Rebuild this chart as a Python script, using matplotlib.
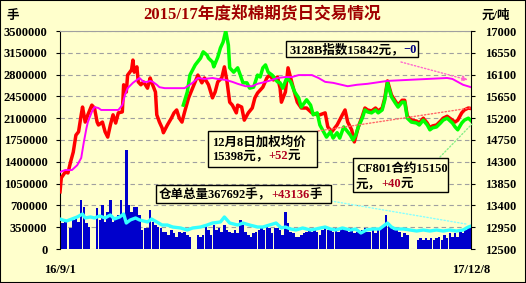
import numpy as np
import matplotlib
matplotlib.use('Agg')
import matplotlib.pyplot as plt
from matplotlib.patches import Rectangle
from matplotlib.text import Annotation

plt.rcParams['font.family'] = ['Liberation Serif', 'Noto Sans CJK SC']
plt.rcParams['font.weight'] = 'bold'

# -- data (trading-day index from 16/9/1 to 17/12/8) --
x_labels = ['16/9/1', '17/12/8']
last_day = 310

# daily volume (hands), every 2nd trading day
vol_k = [573, 412, 439, 0, 332, 466, 492, 439, 787, 680,
         412, 359, 0, 0, 653, 466, 706, 439, 599, 787,
         439, 492, 546, 787, 573, 1590, 706, 599, 680, 680,
         546, 305, 332, 332, 626, 439, 385, 359, 332, 278,
         278, 225, 305, 252, 198, 278, 252, 278, 225, 198,
         0, 0, 225, 198, 225, 385, 305, 225, 385, 305,
         332, 278, 385, 305, 278, 252, 305, 252, 466, 385,
         278, 225, 198, 252, 278, 305, 359, 305, 385, 332,
         252, 332, 332, 305, 225, 599, 412, 278, 252, 198,
         198, 225, 252, 278, 305, 278, 332, 278, 225, 305,
         359, 305, 305, 278, 332, 278, 332, 359, 305, 278,
         332, 252, 278, 278, 305, 332, 278, 278, 305, 252,
         332, 332, 385, 546, 412, 332, 305, 332, 278, 198,
         252, 225, 0, 0, 0, 145, 171, 145, 171, 145,
         171, 145, 171, 198, 145, 225, 171, 252, 198, 252,
         198, 278, 252, 305, 332, 359]

# warehouse receipts / holdings (hands, thousands)
hold_day = [0, 2, 5, 9, 13, 17, 19, 23, 26, 30,
            34, 38, 41, 45, 48, 50, 53, 57, 60, 66,
            69, 73, 77, 81, 85, 91, 96, 100, 106, 111,
            115, 121, 124, 128, 134, 138, 143, 149, 153, 158,
            163, 167, 170, 174, 178, 183, 189, 193, 200, 204,
            208, 213, 219, 223, 227, 231, 236, 241, 247, 250,
            253, 259, 264, 269, 274, 279, 284, 289, 294, 299,
            304, 308, 310]
hold_k = [482, 466, 450, 482, 514, 562, 498, 514, 498, 530,
          498, 546, 482, 514, 562, 417, 466, 498, 466, 434,
          482, 434, 385, 385, 353, 337, 305, 337, 353, 385,
          417, 434, 514, 417, 385, 417, 385, 353, 353, 385,
          417, 337, 353, 321, 305, 337, 305, 321, 353, 321,
          305, 337, 305, 321, 257, 305, 321, 321, 417, 353,
          321, 321, 305, 289, 305, 289, 305, 289, 305, 289,
          305, 353, 368]

# weighted average price (yuan/ton)
avg_day = [0, 1, 4, 6, 8, 10, 12, 14, 16, 17,
           19, 21, 24, 26, 28, 29, 32, 34, 36, 38,
           40, 42, 44, 47, 48, 50, 51, 54, 55, 56,
           58, 59, 61, 63, 66, 68, 69, 72, 73, 75,
           77, 78, 81, 84, 86, 88, 90, 92, 94, 97,
           100, 102, 104, 107, 109, 112, 115, 117, 119, 122,
           124, 126, 128, 130, 133, 134, 137, 139, 142, 145,
           147, 149, 153, 156, 158, 161, 164, 166, 167, 170,
           172, 174, 176, 179, 182, 186, 190, 194, 196, 200,
           202, 205, 209, 213, 215, 217, 220, 222, 225, 228,
           230, 232, 235, 238, 240, 243, 245, 247, 250, 253,
           255, 258, 260, 262, 265, 269, 271, 274, 277, 279,
           281, 284, 287, 289, 292, 296, 298, 300, 303, 305,
           308, 310]
avg_price = [13680, 13970, 14090, 14070, 14300, 14500, 14850, 14920, 15270, 15430,
             15120, 15270, 15470, 15410, 15120, 15060, 15120, 14920, 14810, 15060,
             15270, 15100, 15310, 15330, 15890, 15740, 16090, 16200, 16400, 16150,
             16260, 15950, 15890, 15950, 15820, 16030, 15950, 15740, 15270, 15120,
             15000, 14900, 15060, 15200, 15310, 15370, 15200, 15120, 15330, 15620,
             15820, 15950, 16090, 15930, 16030, 15890, 15620, 15740, 15950, 16030,
             16260, 15950, 15530, 15470, 15310, 15470, 15430, 15160, 15310, 15410,
             15620, 15720, 15840, 16030, 16090, 15990, 16050, 15820, 15530, 15740,
             16240, 16030, 15820, 15530, 15410, 15410, 15310, 15270, 15270, 15310,
             15020, 14920, 15060, 15270, 15370, 15120, 14960, 14710, 15020, 15240,
             15410, 15370, 15350, 15410, 15350, 15410, 15620, 15970, 15680, 15550,
             15470, 15570, 15570, 15240, 15160, 15140, 15100, 15200, 15100, 15000,
             15040, 15060, 15140, 15200, 15240, 15160, 15120, 15160, 15310, 15370,
             15410, 15400]

# CF801 contract
cf_day = [93, 96, 98, 102, 106, 108, 111, 112, 115, 116,
          119, 121, 123, 125, 127, 128, 131, 134, 136, 138,
          141, 143, 146, 149, 151, 153, 155, 157, 160, 164,
          166, 168, 171, 174, 177, 180, 182, 186, 189, 191,
          194, 196, 198, 201, 204, 206, 209, 211, 214, 217,
          219, 221, 223, 225, 228, 230, 232, 235, 238, 240,
          243, 245, 247, 250, 253, 255, 258, 260, 262, 265,
          269, 271, 274, 277, 279, 281, 284, 287, 289, 292,
          296, 298, 300, 303, 305, 308, 310]
cf_price = [15470, 15740, 16090, 16300, 16440, 16570, 16500, 16440, 16360, 16260,
            16460, 16650, 16770, 17000, 16710, 16240, 16150, 16240, 16090, 15930,
            15930, 15820, 15840, 16090, 16050, 16240, 16300, 16150, 16090, 15950,
            15930, 15820, 16030, 15950, 15740, 15620, 15430, 15580, 15470, 15270,
            15310, 15060, 14960, 14810, 14920, 14790, 14900, 14790, 15020, 14920,
            14850, 14750, 14850, 15020, 15200, 15370, 15330, 15310, 15370, 15310,
            15370, 15580, 15930, 15640, 15510, 15430, 15530, 15530, 15200, 15120,
            15100, 15060, 15160, 15060, 14960, 15000, 15020, 15100, 15160, 15200,
            15100, 15020, 14960, 15100, 15160, 15200, 15150]

# 3128B index
idx_day = [0, 4, 9, 13, 16, 18, 20, 21, 24, 26,
           29, 31, 34, 39, 44, 47, 49, 51, 55, 58,
           60, 63, 66, 68, 70, 73, 75, 79, 87, 94,
           100, 104, 109, 115, 119, 125, 130, 134, 140, 145,
           149, 155, 160, 164, 170, 175, 180, 185, 190, 195,
           200, 206, 217, 224, 232, 247, 262, 277, 292, 296,
           300, 304, 310]
idx_price = [14090, 14130, 14130, 14230, 14380, 14710, 15000, 15120, 15330, 15430,
             15410, 15370, 15370, 15370, 15370, 15470, 15680, 15820, 15930, 15990,
             16030, 15950, 15950, 15970, 15950, 15890, 15840, 15820, 15820, 15820,
             15930, 16030, 16010, 16030, 16010, 15990, 15950, 15910, 15860, 15860,
             15910, 15950, 15990, 16030, 16050, 16050, 16090, 16090, 16090, 16030,
             15950, 15930, 15860, 15890, 15910, 15970, 15990, 16010, 16030, 16010,
             15950, 15890, 15840]

W, H = 526, 283
bg = '#FFFFCC'
dark_red = '#B00020'

fig = plt.figure(figsize=(W / 100, H / 100), dpi=100, facecolor=bg)
ax = fig.add_axes([60 / W, 34 / H, 411 / W, 218 / H])
ax.set_facecolor(bg)

vol_day = np.arange(0, last_day + 1, 2)
ax.bar(vol_day, np.array(vol_k) * 1000, width=1.9, color='#0000CC', linewidth=0, zorder=2)
ax.plot(hold_day, np.array(hold_k) * 1000, color='#33FFFF', lw=2.4, zorder=3)

ax.set_ylim(0, 3500000)
ax.set_yticks(np.arange(0, 3500001, 350000))
ax.set_yticklabels([str(v) for v in range(0, 3500001, 350000)])
ax.set_xlim(0, last_day)
ax.set_xticks([0, last_day])
ax.set_xticklabels(x_labels)
ax.grid(axis='y', linestyle=(0, (4, 3)), color='#A0A0A0', lw=0.8)
ax.set_axisbelow(True)
ax.spines['bottom'].set_visible(False)
ax.spines['top'].set_color('#A0A0A0')
ax.spines['right'].set_visible(False)
ax.tick_params(axis='y', direction='out', length=3, labelsize=9, pad=6)
ax.tick_params(axis='x', length=0, labelsize=9, pad=11)

ax2 = ax.twinx()
ax2.plot(avg_day, avg_price, color='#FF0000', lw=2.5, zorder=3)
ax2.plot(cf_day, cf_price, color='#00FF00', lw=2.5, zorder=4)
ax2.plot(idx_day, idx_price, color='#FF00FF', lw=1.4, zorder=5)
ax2.set_ylim(12500, 17000)
ax2.set_yticks(np.arange(12500, 17001, 450))
ax2.set_yticklabels([str(v) for v in range(12500, 17001, 450)])
for s in ['top', 'bottom', 'left']:
    ax2.spines[s].set_visible(False)
ax2.tick_params(axis='y', direction='out', length=3, labelsize=9, pad=7)

# titles
fig.text(262 / W, 1 - 15 / H, '2015/17年度郑棉期货日交易情况', ha='center', va='center',
         fontsize=12, color='#A00000')
fig.text(13 / W, 1 - 16 / H, '手', ha='center', va='center', fontsize=9)
fig.text(496 / W, 1 - 16 / H, '元/吨', ha='center', va='center', fontsize=9)


def box(x0, y0, x1, y1):
    fig.add_artist(Rectangle((x0 / W, 1 - y1 / H), (x1 - x0) / W, (y1 - y0) / H,
                             transform=fig.transFigure, facecolor=bg,
                             edgecolor='black', lw=1, zorder=5))


def rich(x, y, parts):
    prev = None
    for s, c in parts:
        if prev is None:
            a = Annotation(s, xy=(x, H - y), xycoords='figure pixels',
                           ha='left', va='baseline', fontsize=9, color=c, zorder=6)
        else:
            a = Annotation(s, xy=(1, H - y), xycoords=(prev, 'figure pixels'),
                           ha='left', va='baseline', fontsize=9, color=c, zorder=6)
        fig.add_artist(a)
        prev = a


def dotted(p0, p1, color, head=False):
    style = '-|>' if head else '-'
    fig.add_artist(Annotation('', xy=(p1[0], H - p1[1]), xytext=(p0[0], H - p0[1]),
                              xycoords='figure pixels', textcoords='figure pixels',
                              arrowprops=dict(arrowstyle=style, color=color, lw=1,
                                              linestyle=(0, (1, 1.5)),
                                              shrinkA=0, shrinkB=0, mutation_scale=8),
                              zorder=4))


dotted((401, 62), (468, 80), '#FF66CC', head=True)
dotted((318, 131), (470, 108), '#FF6666')
dotted((440, 157), (472, 124), '#88EE88')
dotted((331, 201), (466, 224), '#88FFFF')

box(286, 41, 418, 57)
rich(289, 53, [('3128B指数15842元，', 'black'), ('−0', '#000080')])

box(208, 131, 317, 167)
rich(212, 146, [('12月8日加权均价', 'black')])
rich(212, 159, [('15398元，', 'black'), ('+52', dark_red), ('元', 'black')])

box(353, 158, 448, 192)
rich(356, 172, [('CF801合约15150', 'black')])
rich(356, 187, [('元，', 'black'), ('+40', dark_red), ('元', 'black')])

box(156, 185, 331, 203)
rich(159, 198, [('仓单总量367692手，', 'black'), ('+43136', dark_red), ('手', 'black')])

fig.add_artist(Rectangle((0, 0), 1, 1, transform=fig.transFigure, fill=False,
                         edgecolor='black', lw=1.5, zorder=10))

fig.savefig('out.png', dpi=100, facecolor=bg)
